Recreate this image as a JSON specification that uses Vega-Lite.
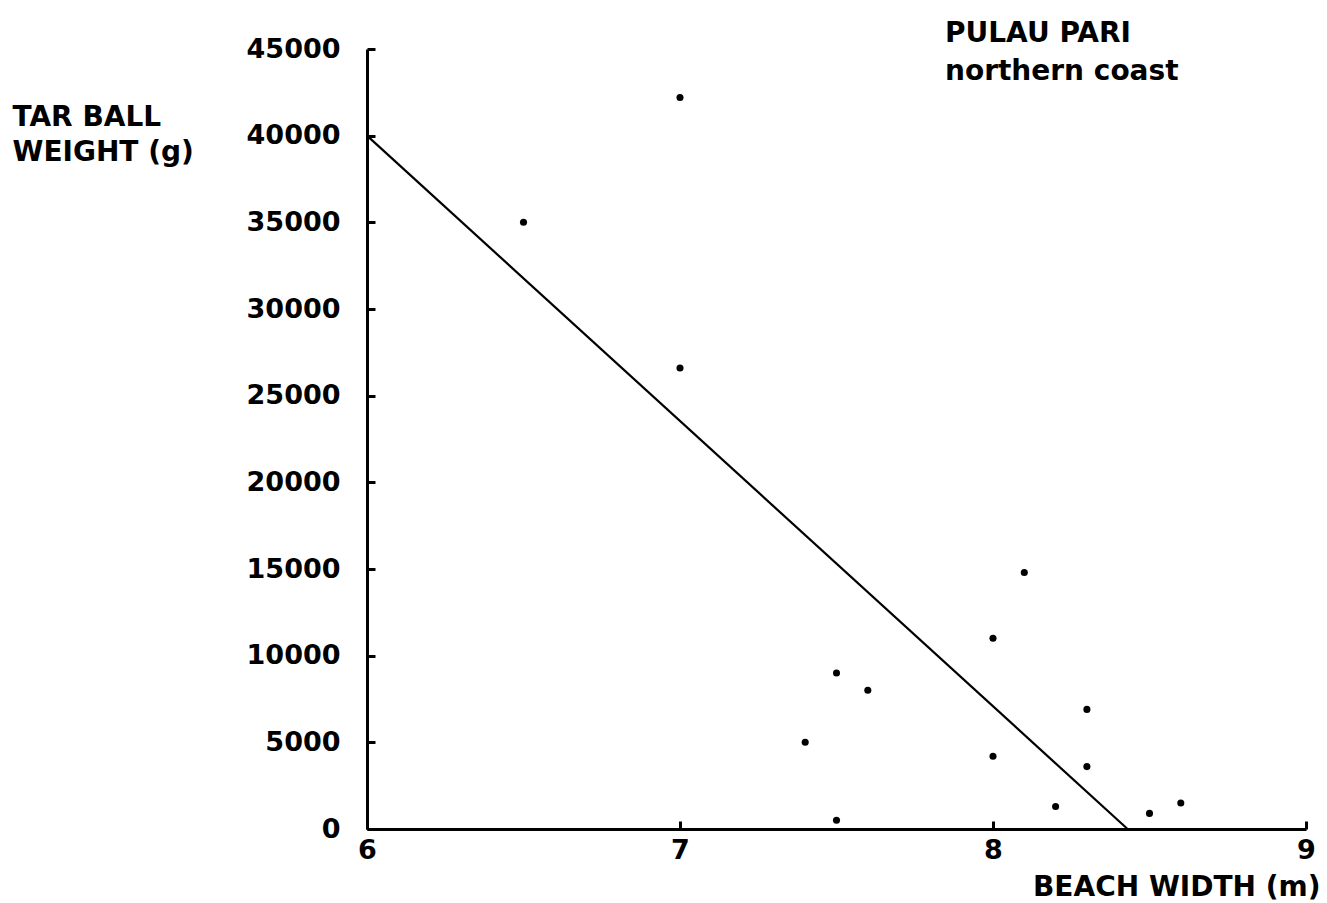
{
  "$schema": "https://vega.github.io/schema/vega-lite/v6.json",
  "width": 939,
  "height": 780,
  "autosize": {"type": "none"},
  "padding": {"left": 367, "top": 49, "right": 21, "bottom": 74},
  "background": "white",
  "config": {
    "view": {"stroke": null},
    "axis": {"grid": false, "domainColor": "black", "domainWidth": 3, "tickColor": "black", "tickWidth": 3, "tickSize": -8, "labelFlush": false, "labelOverlap": false, "labelFont": "DejaVu Sans", "labelFontWeight": "bold", "labelFontSize": 27, "labelColor": "black", "titleFont": "DejaVu Sans", "titleFontWeight": "bold", "titleFontSize": 28, "titleColor": "black"}
  },
  "title": {
    "text": ["PULAU PARI", "northern coast"],
    "anchor": "start",
    "frame": "group",
    "orient": "top",
    "dx": 578,
    "dy": 78,
    "offset": 27,
    "baseline": "top",
    "font": "DejaVu Sans",
    "fontSize": 28,
    "fontWeight": "bold",
    "lineHeight": 38,
    "color": "black"
  },
  "datasets": {
    "pts": [
      {"width": 7.0, "weight": 42200},
      {"width": 6.5, "weight": 35000},
      {"width": 7.0, "weight": 26600},
      {"width": 8.1, "weight": 14800},
      {"width": 8.0, "weight": 11000},
      {"width": 7.5, "weight": 9000},
      {"width": 7.6, "weight": 8000},
      {"width": 7.4, "weight": 5000},
      {"width": 8.3, "weight": 6900},
      {"width": 8.0, "weight": 4200},
      {"width": 8.3, "weight": 3600},
      {"width": 8.2, "weight": 1300},
      {"width": 7.5, "weight": 500},
      {"width": 8.5, "weight": 900},
      {"width": 8.6, "weight": 1500}
    ],
    "fit": [
      {"width": 6.0, "weight": 40000},
      {"width": 8.43, "weight": 0}
    ]
  },
  "layer": [
    {
      "data": {"name": "fit"},
      "mark": {"type": "line", "color": "black", "strokeWidth": 2.2},
      "encoding": {
        "x": {"field": "width", "type": "quantitative", "scale": {"domain": [6, 9]},
          "axis": {"values": [6, 7, 8, 9], "format": "d", "labelPadding": 16, "title": "BEACH WIDTH (m)", "titleAnchor": "end", "titleAlign": "right", "titleBaseline": "middle", "titleX": 953, "titleY": 58}},
        "y": {"field": "weight", "type": "quantitative", "scale": {"domain": [0, 45000]},
          "axis": {"values": [0, 5000, 10000, 15000, 20000, 25000, 30000, 35000, 40000, 45000], "format": "d", "labelPadding": 35, "title": ["TAR BALL", "WEIGHT (g)"], "titleAngle": 0, "titleAlign": "left", "titleBaseline": "middle", "titleX": -355, "titleY": 68, "titleLineHeight": 35}}
      }
    },
    {
      "data": {"name": "pts"},
      "mark": {"type": "point", "filled": true, "color": "black", "size": 50, "opacity": 1},
      "encoding": {
        "x": {"field": "width", "type": "quantitative"},
        "y": {"field": "weight", "type": "quantitative"}
      }
    }
  ]
}
